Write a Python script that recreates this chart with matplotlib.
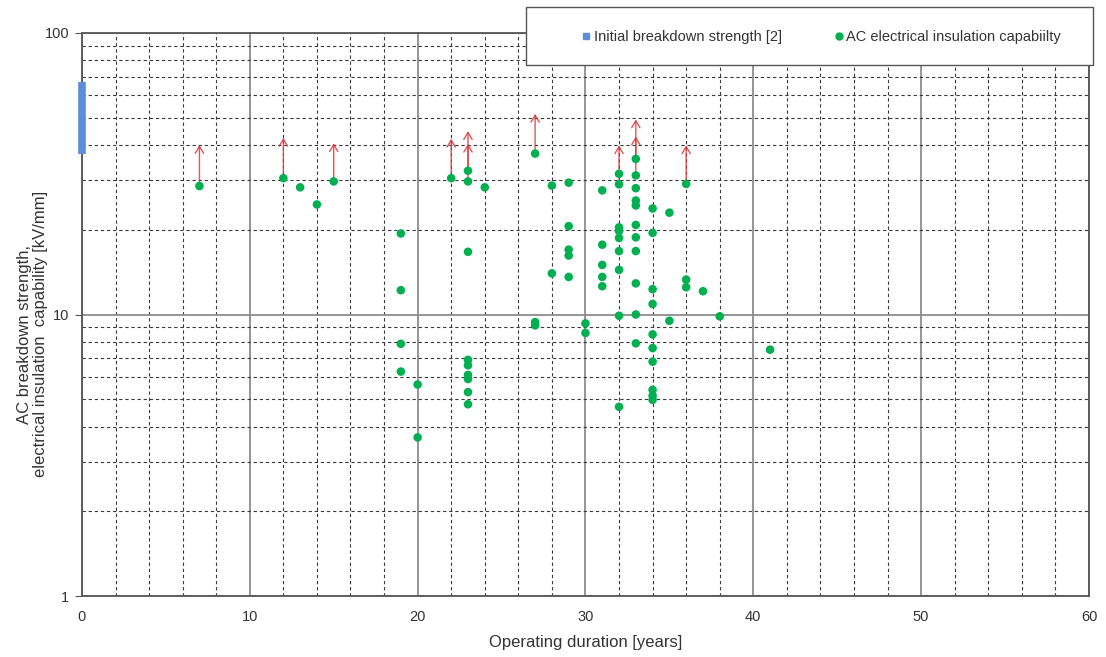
import numpy as np
import matplotlib
matplotlib.use("Agg")
import matplotlib.pyplot as plt
from matplotlib.patches import Rectangle
from matplotlib.lines import Line2D
from matplotlib.ticker import MultipleLocator, LogLocator, NullFormatter, FixedLocator

plt.rcParams["font.family"] = ["Liberation Sans", "DejaVu Sans"]

# AC electrical insulation capability per operating duration
years = [7, 12, 13, 14, 15,
         19, 19, 19, 19,
         20, 20,
         22,
         23, 23, 23, 23, 23, 23, 23, 23, 23,
         24,
         27, 27, 27,
         28, 28,
         29, 29, 29, 29, 29,
         30, 30,
         31, 31, 31, 31, 31,
         32, 32, 32, 32, 32, 32, 32, 32, 32,
         33, 33, 33, 33, 33, 33, 33, 33, 33, 33, 33,
         34, 34, 34, 34, 34, 34, 34, 34, 34, 34,
         35, 35,
         36, 36, 36,
         37, 38, 41]
strength = [28.6, 30.5, 28.3, 24.6, 29.7,
            19.4, 12.2, 7.87, 6.27,
            5.64, 3.66,
            30.5,
            32.4, 29.7, 16.7, 6.9, 6.6, 6.1, 5.9, 5.3, 4.8,
            28.3,
            37.3, 9.4, 9.15,
            28.7, 14.0,
            29.4, 20.6, 17.0, 16.2, 13.6,
            9.3, 8.6,
            27.6, 17.7, 15.0, 13.6, 12.6,
            31.6, 29.0, 20.4, 19.8, 18.7, 16.8, 14.4, 9.9, 4.7,
            35.7, 31.2, 28.1, 25.4, 24.4, 20.8, 18.8, 16.8, 12.9, 10.0, 7.9,
            23.8, 19.5, 12.3, 10.9, 8.5, 7.6, 6.8, 5.4, 5.15, 4.98,
            23.0, 9.5,
            29.1, 13.3, 12.5,
            12.1, 9.85, 7.5]

# lower-bound results (arrows pointing upward)
arrow_years = [7, 12, 15, 22, 23, 23, 27, 32, 33, 33, 36]
arrow_from = [28.6, 30.5, 29.7, 30.5, 29.7, 32.4, 37.3, 29.0, 31.2, 35.7, 29.1]
arrow_to = [40.0, 42.4, 40.6, 42.1, 40.4, 44.8, 51.6, 39.9, 42.9, 49.3, 39.9]

# initial breakdown strength range [2]
initial_year = 0
initial_range = [37.3, 67.0]

fig = plt.figure(figsize=(11.06, 6.57), dpi=100)
ax = fig.add_axes([0.0741, 0.0928, 0.9105, 0.857])

ax.set_yscale("log")
ax.set_xlim(0, 60)
ax.set_ylim(1, 100)

ax.xaxis.set_major_locator(MultipleLocator(10))
ax.xaxis.set_minor_locator(MultipleLocator(2))
ax.yaxis.set_major_locator(FixedLocator([1, 10, 100]))
ax.yaxis.set_minor_locator(LogLocator(base=10, subs=np.arange(2, 10)))
ax.yaxis.set_minor_formatter(NullFormatter())
ax.set_yticklabels(["1", "10", "100"])

ax.grid(True, which="major", color="#8c8c8c", linewidth=1.3, linestyle="-")
ax.grid(True, which="minor", color="#3a3a3a", linewidth=0.8, linestyle=(0, (3, 2.5)))
ax.set_axisbelow(True)

for sp in ax.spines.values():
    sp.set_color("#555555")
    sp.set_linewidth(1.3)

ax.tick_params(axis="x", which="both", length=0, pad=10, labelsize=10.5, colors="#333333")
ax.tick_params(axis="y", which="major", length=5, pad=4, labelsize=10.5, colors="#333333", direction="out")
ax.tick_params(axis="y", which="minor", length=0)
ax.tick_params(axis="y", which="major", color="#555555")

# initial strength bar
ax.plot([initial_year, initial_year], initial_range, color="#5b8fd9", linewidth=5.5,
        solid_capstyle="butt", clip_on=False, zorder=4)

for x, y0, y1 in zip(arrow_years, arrow_from, arrow_to):
    ax.annotate("", xy=(x, y1), xytext=(x, y0),
                arrowprops=dict(arrowstyle="->,head_length=0.5,head_width=0.3",
                                color="#d9383a", lw=1.0, alpha=0.85, shrinkA=0, shrinkB=0),
                zorder=3)

ax.scatter(years, strength, s=38, color="#00b050", edgecolors="none", zorder=5)

ax.set_xlabel("Operating duration [years]", fontsize=12, color="#333333", labelpad=8)
ax.set_ylabel("AC breakdown strength,\nelectrical insulation  capability [kV/mm]",
              fontsize=12, color="#333333", linespacing=1.1)
ax.yaxis.set_label_coords(-0.034, 0.465)

# legend box
box = Rectangle((0.4756, 0.901), 0.5127, 0.088, transform=fig.transFigure,
                facecolor="white", edgecolor="#555555", linewidth=1.0, zorder=8)
fig.patches.append(box)
handles = [Line2D([], [], marker="s", linestyle="none", color="#5b8fd9", markersize=4.5),
           Line2D([], [], marker="o", linestyle="none", color="#00b050", markersize=5)]
leg = fig.legend(handles, ["Initial breakdown strength [2]", "AC electrical insulation capabiilty"],
                 loc="center", bbox_to_anchor=(0.4756 + 0.5127 / 2 + 0.01, 0.943), ncol=2,
                 frameon=False, fontsize=10.5, handletextpad=0.1, handlelength=0.8,
                 columnspacing=3.5, labelcolor="#333333")
leg.set_zorder(12)

fig.savefig("out.png", dpi=100)
